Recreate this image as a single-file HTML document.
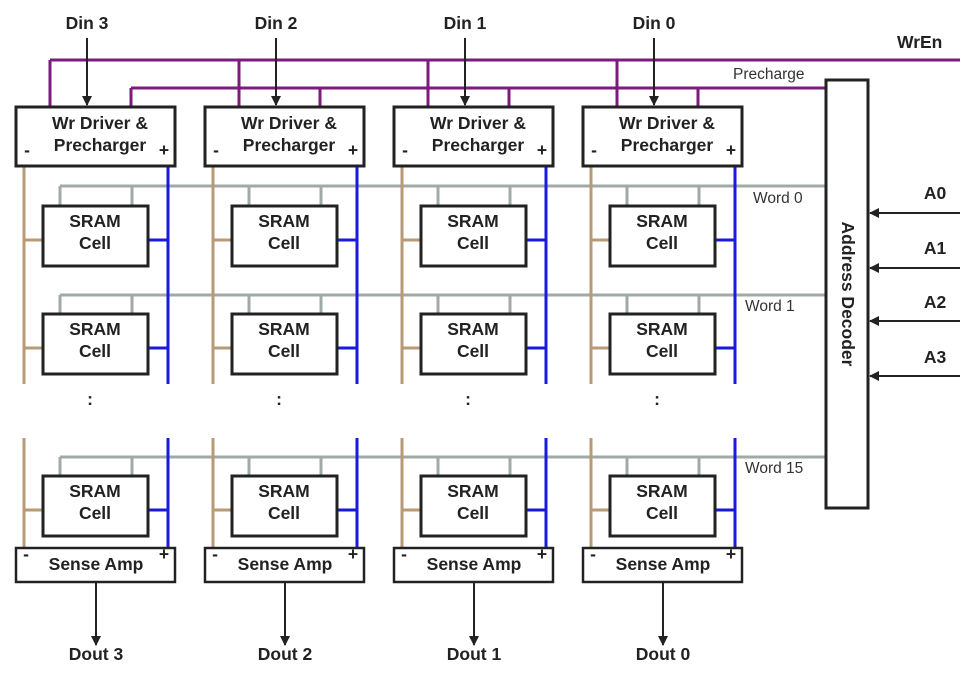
<!DOCTYPE html>
<html><head><style>
body{margin:0;background:#fff}
svg text{font-family:"Liberation Sans",Arial,sans-serif}
.b{font-weight:bold;font-size:17.5px;fill:#222}
.n{font-size:15.5px;fill:#333}
</style></head><body>
<svg width="980" height="675" viewBox="0 0 980 675" xmlns="http://www.w3.org/2000/svg">
<defs>
<marker id="ar" markerWidth="10" markerHeight="10" refX="9" refY="5" orient="auto" markerUnits="userSpaceOnUse"><path d="M0,0 L10,5 L0,10 z" fill="#222"/></marker>
<g id="col">
  <path d="M24,166V384M24,438V548" stroke="#b89a76" stroke-width="3" fill="none"/>
  <path d="M168,166V384M168,438V548" stroke="#1a1adf" stroke-width="3" fill="none"/>
  <path d="M60,186V206M132,186V206M60,295V314M132,295V314M60,457V476M132,457V476" stroke="#a0aaa6" stroke-width="3"/>
  <path d="M24,240H43M24,348H43M24,510H43" stroke="#b89a76" stroke-width="3"/>
  <path d="M148,240H168M148,348H168M148,510H168" stroke="#1a1adf" stroke-width="3"/>
  <path d="M50,60V107M131,88V107" stroke="#7d1a7d" stroke-width="3"/>
  <line x1="87" y1="38" x2="87" y2="105" stroke="#222" stroke-width="2" marker-end="url(#ar)"/>
  <rect x="16" y="107" width="159" height="59" fill="#fff" stroke="#222" stroke-width="3"/>
  <text class="b" x="100" y="129" text-anchor="middle">Wr Driver &amp;</text>
  <text class="b" x="100" y="151" text-anchor="middle">Precharger</text>
  <text class="b" x="27" y="156" text-anchor="middle">-</text>
  <text class="b" x="164" y="156" text-anchor="middle">+</text>
  <rect x="43" y="206" width="105" height="60" fill="#fff" stroke="#222" stroke-width="3"/>
  <text class="b" x="95" y="227" text-anchor="middle">SRAM</text><text class="b" x="95" y="249" text-anchor="middle">Cell</text>
  <rect x="43" y="314" width="105" height="60" fill="#fff" stroke="#222" stroke-width="3"/>
  <text class="b" x="95" y="335" text-anchor="middle">SRAM</text><text class="b" x="95" y="357" text-anchor="middle">Cell</text>
  <rect x="43" y="476" width="105" height="60" fill="#fff" stroke="#222" stroke-width="3"/>
  <text class="b" x="95" y="497" text-anchor="middle">SRAM</text><text class="b" x="95" y="519" text-anchor="middle">Cell</text>
  <text class="b" x="90" y="405" text-anchor="middle">:</text>
  <rect x="16" y="548" width="159" height="34" fill="#fff" stroke="#222" stroke-width="2.5"/>
  <text class="b" x="96" y="570" text-anchor="middle">Sense Amp</text>
  <text class="b" x="26" y="560" text-anchor="middle">-</text>
  <text class="b" x="164" y="560" text-anchor="middle">+</text>
  <line x1="96" y1="582" x2="96" y2="645" stroke="#222" stroke-width="2" marker-end="url(#ar)"/>
</g>
</defs>
<path d="M50,60H960" stroke="#7d1a7d" stroke-width="3"/>
<path d="M131,88H826" stroke="#7d1a7d" stroke-width="3"/>
<path d="M60,186H826M60,295H826M60,457H826" stroke="#a0aaa6" stroke-width="3"/>
<use href="#col" x="0"/>
<use href="#col" x="189"/>
<use href="#col" x="378"/>
<use href="#col" x="567"/>
<text class="b" x="87" y="29" text-anchor="middle">Din 3</text>
<text class="b" x="276" y="29" text-anchor="middle">Din 2</text>
<text class="b" x="465" y="29" text-anchor="middle">Din 1</text>
<text class="b" x="654" y="29" text-anchor="middle">Din 0</text>
<text class="b" x="96" y="660" text-anchor="middle">Dout 3</text>
<text class="b" x="285" y="660" text-anchor="middle">Dout 2</text>
<text class="b" x="474" y="660" text-anchor="middle">Dout 1</text>
<text class="b" x="663" y="660" text-anchor="middle">Dout 0</text>
<text class="b" x="897" y="48">WrEn</text>
<text class="n" x="733" y="79">Precharge</text>
<text class="n" x="753" y="203">Word 0</text>
<text class="n" x="745" y="311">Word 1</text>
<text class="n" x="745" y="473">Word 15</text>
<rect x="826" y="80" width="42" height="428" fill="#fff" stroke="#222" stroke-width="3"/>
<text class="b" transform="translate(842,294) rotate(90)" text-anchor="middle">Address Decoder</text>
<g stroke="#222" stroke-width="2" marker-end="url(#ar)">
<line x1="960" y1="213" x2="870" y2="213"/>
<line x1="960" y1="268" x2="870" y2="268"/>
<line x1="960" y1="321" x2="870" y2="321"/>
<line x1="960" y1="376" x2="870" y2="376"/>
</g>
<text class="b" x="935" y="199" text-anchor="middle">A0</text>
<text class="b" x="935" y="254" text-anchor="middle">A1</text>
<text class="b" x="935" y="308" text-anchor="middle">A2</text>
<text class="b" x="935" y="363" text-anchor="middle">A3</text>
</svg>
</body></html>
